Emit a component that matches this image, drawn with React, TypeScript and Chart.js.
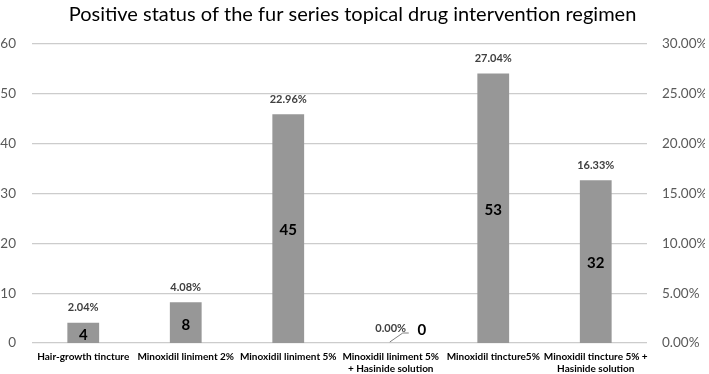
import React, { useEffect, useRef } from "react";
import { Chart, registerables } from "chart.js";

Chart.register(...registerables);

const TITLE = "Positive status of the fur series topical drug intervention regimen";
const categories: string[][] = [
  ["Hair-growth tincture"],
  ["Minoxidil liniment 2%"],
  ["Minoxidil liniment 5%"],
  ["Minoxidil liniment 5%", "+ Hasinide solution"],
  ["Minoxidil tincture5%"],
  ["Minoxidil tincture 5% +", "Hasinide solution"],
];
const counts = [4, 8, 45, 0, 53, 32];
const percents = [2.04, 4.08, 22.96, 0.0, 27.04, 16.33];
const countAxis = { min: 0, max: 60, step: 10 };
const percentAxis = { min: 0, max: 30, step: 5 };

const FONT = "Lato, 'Open Sans', sans-serif";

const labelPlugin = {
  id: "barLabels",
  afterDatasetsDraw(chart: any) {
    const ctx = chart.ctx;
    const meta = chart.getDatasetMeta(0);
    ctx.save();
    meta.data.forEach((bar: any, i: number) => {
      const x = bar.x;
      const top = bar.y;
      const base = bar.base;
      ctx.font = `bold 11px ${FONT}`;
      ctx.fillStyle = "#404040";
      ctx.textAlign = "center";
      ctx.textBaseline = "middle";
      const pct = percents[i].toFixed(2) + "%";
      ctx.fillText(pct, x, top - 15);
      ctx.font = `bold 15px ${FONT}`;
      ctx.fillStyle = "#000";
      if (counts[i] === 0) {
        ctx.fillText(String(counts[i]), x + 31, top - 13);
        ctx.strokeStyle = "#808080";
        ctx.lineWidth = 1;
        ctx.beginPath();
        ctx.moveTo(x - 1, base - 1);
        ctx.lineTo(x + 12, top - 10);
        ctx.lineTo(x + 18, top - 10);
        ctx.stroke();
      } else {
        ctx.fillText(String(counts[i]), x, (top + base) / 2 + 2);
      }
    });
    ctx.restore();
  },
};

export default function App() {
  const ref = useRef<HTMLCanvasElement>(null);
  useEffect(() => {
    const chart = new Chart(ref.current!, {
      type: "bar",
      data: {
        labels: categories,
        datasets: [
          {
            data: percents,
            yAxisID: "y1",
            backgroundColor: "#979797",
            barPercentage: 0.31,
            categoryPercentage: 1,
          },
        ],
      },
      options: {
        animation: false,
        responsive: false,
        devicePixelRatio: 1,
        layout: { padding: { top: 0, bottom: 0, left: 0, right: 4 } },
        plugins: {
          legend: { display: false },
          tooltip: { enabled: false },
          title: {
            display: true,
            text: TITLE,
            color: "#000",
            font: { family: FONT, size: 20, weight: "normal" },
            padding: { top: 3, bottom: 17 },
          },
        },
        scales: {
          x: {
            grid: { display: false, drawTicks: false },
            border: { display: false },
            ticks: {
              maxRotation: 0,
              autoSkip: false,
              color: "#000",
              padding: 8,
              font: { family: FONT, size: 10, weight: "bold", lineHeight: 1.2 },
            },
            afterFit(s: any) {
              s.height = 31;
            },
          },
          y: {
            position: "left",
            min: countAxis.min,
            max: countAxis.max,
            border: { display: false },
            grid: { color: "#cccccc", lineWidth: 1.2, drawTicks: false },
            ticks: {
              stepSize: countAxis.step,
              color: "#595959",
              padding: 16,
              font: { family: FONT, size: 13.5 },
            },
            afterFit(s: any) {
              s.width = 32;
            },
          },
          y1: {
            position: "right",
            min: percentAxis.min,
            max: percentAxis.max,
            border: { display: false },
            grid: { display: false, drawTicks: false },
            ticks: {
              stepSize: percentAxis.step,
              color: "#595959",
              padding: 15,
              font: { family: FONT, size: 13.5 },
              callback: (v: any) => Number(v).toFixed(2) + "%",
            },
            afterFit(s: any) {
              s.width = 58;
            },
          },
        },
      },
      plugins: [labelPlugin],
    });
    return () => chart.destroy();
  }, []);
  return (
    <div style={{ position: "fixed", left: 0, top: 0, width: 709, height: 374, background: "#fff" }}>
      <canvas ref={ref} width={709} height={374} />
    </div>
  );
}
